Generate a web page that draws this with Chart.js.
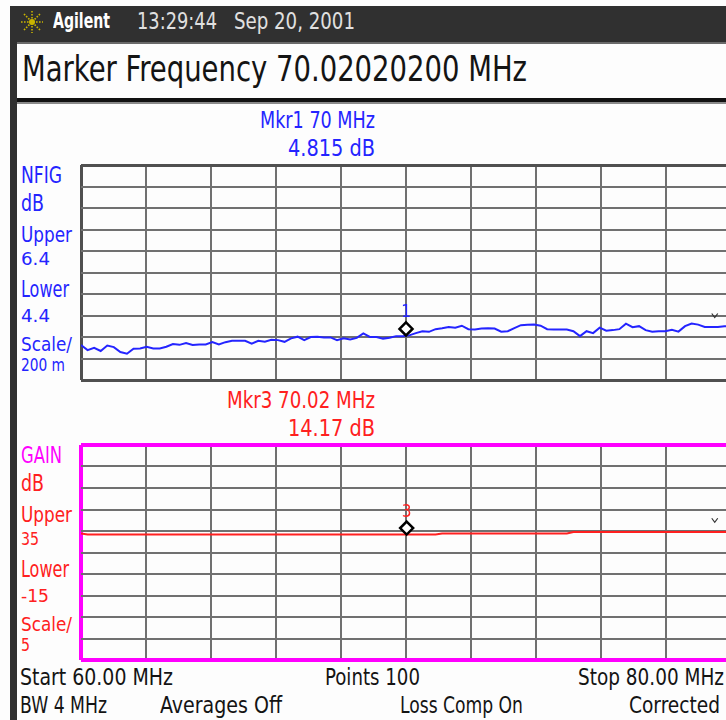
<!DOCTYPE html>
<html lang="en">
<head>
<meta charset="UTF-8">
<title>Marker Frequency 70.02020200 MHz</title>
<script src="https://cdn.jsdelivr.net/npm/chart.js"></script>
<style>
  body { margin:0; width:726px; height:720px; overflow:hidden; background:#fdfdfd; position:relative; }
  .abs { position:absolute; }
  #topbar { left:10px; top:6px; width:716px; height:36px; background:#303030; }
  #titlebox { left:10px; top:42px; width:716px; height:56px; background:#fdfdfd; border-top:2px solid #6a6a6a; box-sizing:border-box; }
  #sep { left:10px; top:98px; width:716px; height:4px; background:#111; border-bottom:2px solid #8a8a8a; }
  #leftbar { left:10px; top:42px; width:7px; height:678px; background:#303030; }
  .txt { position:absolute; white-space:nowrap; transform-origin:0 0; }
  canvas { position:absolute; }
</style>
</head>
<body>
<div id="topbar" class="abs"></div>
<div id="titlebox" class="abs"></div>
<div id="sep" class="abs"></div>
<div id="leftbar" class="abs"></div>
<svg class="abs" style="left:19px;top:9px" width="26" height="26" viewBox="-13 -13 26 26">
  <g stroke="#c9b400" stroke-width="1.6" stroke-dasharray="1.6 1.4">
    <line x1="0" y1="-11" x2="0" y2="11"/>
    <line x1="-11" y1="0" x2="11" y2="0"/>
    <line x1="-8" y1="-8" x2="8" y2="8"/>
    <line x1="-8" y1="8" x2="8" y2="-8"/>
  </g>
  <circle r="3" fill="#c9b400"/>
</svg>
<canvas id="nfig" width="656" height="221" style="left:78px;top:162px"></canvas>
<canvas id="gain" width="656" height="221" style="left:78px;top:442px"></canvas>
<script>
// sweep
const startMHz = 60, stopMHz = 80, points = 100;
const freqs = Array.from({length: points}, (_, i) => startMHz + i * (stopMHz - startMHz) / (points - 1));

// noise figure trace, dB
const nfig = [
  4.725, 4.678, 4.700, 4.670, 4.720, 4.706, 4.660, 4.644, 4.690, 4.694,
  4.709, 4.694, 4.694, 4.709, 4.734, 4.727, 4.743, 4.725, 4.731, 4.731,
  4.752, 4.731, 4.752, 4.764, 4.764, 4.764, 4.738, 4.764, 4.757, 4.775,
  4.771, 4.755, 4.787, 4.803, 4.771, 4.799, 4.803, 4.796, 4.796, 4.771,
  4.789, 4.777, 4.792, 4.833, 4.801, 4.799, 4.785, 4.794, 4.808, 4.808,
  4.815, 4.836, 4.854, 4.848, 4.873, 4.882, 4.894, 4.887, 4.905, 4.873,
  4.870, 4.878, 4.882, 4.879, 4.850, 4.854, 4.882, 4.910, 4.915, 4.916,
  4.905, 4.873, 4.870, 4.870, 4.870, 4.854, 4.808, 4.854, 4.836, 4.887,
  4.859, 4.864, 4.873, 4.924, 4.891, 4.901, 4.864, 4.850, 4.854, 4.854,
  4.868, 4.850, 4.901, 4.926, 4.915, 4.894, 4.894, 4.894, 4.901, 4.900
];

// gain trace, dB
const gain = [
  14.45, 14.17, 14.17, 14.17, 14.17, 14.17, 14.17, 14.17, 14.17, 14.17,
  14.17, 14.17, 14.17, 14.17, 14.17, 14.17, 14.17, 14.17, 14.17, 14.17,
  14.17, 14.17, 14.17, 14.17, 14.17, 14.17, 14.17, 14.17, 14.17, 14.17,
  14.17, 14.17, 14.17, 14.17, 14.17, 14.17, 14.17, 14.17, 14.17, 14.17,
  14.17, 14.17, 14.17, 14.17, 14.17, 14.17, 14.17, 14.17, 14.17, 14.17,
  14.17, 14.17, 14.17, 14.17, 14.17, 14.40, 14.40, 14.40, 14.40, 14.40,
  14.40, 14.40, 14.40, 14.40, 14.40, 14.40, 14.40, 14.40, 14.40, 14.40,
  14.40, 14.40, 14.40, 14.40, 14.40, 14.75, 14.75, 14.75, 14.75, 14.75,
  14.75, 14.75, 14.75, 14.75, 14.75, 14.75, 14.75, 14.75, 14.75, 14.75,
  14.75, 14.75, 14.75, 14.75, 14.75, 14.75, 14.75, 14.75, 14.75, 14.75
];

const nfigRange = [4.4, 6.4];   // lower, upper (200 m / div)
const gainRange = [-15, 35];    // lower, upper (5 / div)
const nfigMarker = [70, 4.815];
const gainMarker = [70.02, 14.17];

const BLUE = '#2424ff', RED = '#ff2020', MAGENTA = '#ff00ff', INK = '#141414';
const FAM = '"Liberation Sans Narrow", "DejaVu Sans Condensed", "Liberation Sans", sans-serif';

// place text so that cap top / baseline / width match the screen
const mc = document.createElement('canvas').getContext('2d');
function put(text, x, capTop, base, width, color, weight) {
  weight = weight || 'normal';
  mc.font = weight + ' 100px ' + FAM;
  const capRatio = mc.measureText('H').actualBoundingBoxAscent / 100;
  const size = (base - capTop) / capRatio;
  mc.font = weight + ' ' + size + 'px ' + FAM;
  const m = mc.measureText(text);
  const asc = m.fontBoundingBoxAscent, desc = m.fontBoundingBoxDescent;
  const el = document.createElement('div');
  el.className = 'txt';
  el.textContent = text;
  el.style.font = mc.font;
  el.style.lineHeight = size + 'px';
  el.style.color = color;
  el.style.left = x + 'px';
  el.style.top = (base - (size + asc - desc) / 2) + 'px';
  el.style.transform = 'scaleX(' + (width / m.width) + ')';
  document.body.appendChild(el);
}

put('Agilent', 53, 13.5, 28.5, 57, '#ffffff', 'bold');
put('13:29:44', 137, 12.5, 29, 80, '#e0e0e0');
put('Sep 20, 2001', 234, 12.5, 29, 121, '#e0e0e0');
put('Marker Frequency 70.02020200 MHz', 22, 55.5, 82, 505, INK);

put('Mkr1 70 MHz', 260, 111.7, 128.3, 115, BLUE);
put('4.815 dB', 288, 139, 156, 87, BLUE);
put('Mkr3 70.02 MHz', 227, 391.7, 408.3, 148, RED);
put('14.17 dB', 288, 419, 436, 87, RED);

const side = [
  // text nfig, text gain, capTop, base, width nfig, width gain
  ['NFIG', 'GAIN', 166.7, 183.3, 41, 41],
  ['dB', 'dB', 195, 211.7, 23, 23],
  ['Upper', 'Upper', 226.7, 242, 51, 51],
  ['6.4', '35', 253.3, 265.7, 29, 18],
  ['Lower', 'Lower', 281, 297.7, 48, 48],
  ['4.4', '-15', 309.3, 322.7, 29, 28],
  ['Scale/', 'Scale/', 337.3, 351.7, 51, 51],
  ['200 m', '5', 359.3, 371.7, 44, 9]
];
side.forEach((r, i) => {
  put(r[0], 20.5, r[2], r[3], r[4], BLUE);
  put(r[1], 20.5, r[2] + 280, r[3] + 280, r[5], i === 0 ? MAGENTA : RED);
});

put('Start 60.00 MHz', 20, 668.3, 685, 153, INK);
put('Points 100', 325, 668.3, 685, 95, INK);
put('Stop 80.00 MHz', 578, 668.3, 685, 146, INK);
put('BW 4 MHz', 20, 696.7, 713.3, 87, INK);
put('Averages Off', 160, 696.7, 713.3, 122, INK);
put('Loss Comp On', 400, 696.7, 713.3, 123, INK);
put('Corrected', 629, 696.7, 713.3, 91, INK);

// marker diamond with number, plus the small reference caret at the right edge
const markerPlugin = {
  id: 'mkr',
  afterDatasetsDraw(chart, args, o) {
    const {ctx, scales: {x, y}} = chart;
    const px = x.getPixelForValue(o.at[0]);
    const py = y.getPixelForValue(o.at[1]);
    const r = 6.5, cy = py - r;
    ctx.save();
    ctx.beginPath();
    ctx.moveTo(px, cy - r); ctx.lineTo(px + r, cy); ctx.lineTo(px, cy + r); ctx.lineTo(px - r, cy);
    ctx.closePath();
    ctx.fillStyle = '#fff'; ctx.fill();
    ctx.lineWidth = 2.5; ctx.strokeStyle = '#000'; ctx.stroke();
    ctx.fillStyle = o.color;
    ctx.font = '17px ' + FAM;
    ctx.textAlign = 'center'; ctx.textBaseline = 'alphabetic';
    ctx.fillText(o.label, px, cy - r - 5);
    const cx = x.getPixelForValue(o.caret[0]), cyy = y.getPixelForValue(o.caret[1]);
    ctx.beginPath();
    ctx.moveTo(cx - 3, cyy - 2); ctx.lineTo(cx, cyy + 2); ctx.lineTo(cx + 3, cyy - 2);
    ctx.lineWidth = 1.2; ctx.strokeStyle = '#333'; ctx.stroke();
    ctx.restore();
  }
};

function grid(frameColor, frameWidth) {
  return {
    drawTicks: false,
    color: c => (c.index === 0 || c.index === 10) ? frameColor : '#707070',
    lineWidth: c => (c.index === 0 || c.index === 10) ? frameWidth : 2
  };
}

function makeChart(id, values, range, color, frameColor, frameWidth, mk) {
  return new Chart(document.getElementById(id), {
    type: 'line',
    data: {
      datasets: [{
        data: freqs.map((f, i) => ({x: f, y: values[i]})),
        borderColor: color,
        borderWidth: 2,
        pointRadius: 0,
        tension: 0
      }]
    },
    options: {
      responsive: false,
      animation: false,
      events: [],
      layout: {padding: 3},
      plugins: {legend: {display: false}, tooltip: {enabled: false}, mkr: mk},
      scales: {
        x: {
          type: 'linear', min: startMHz, max: stopMHz,
          ticks: {display: false, count: 11},
          grid: grid(frameColor, frameWidth),
          border: {display: false}
        },
        y: {
          min: range[0], max: range[1],
          ticks: {display: false, count: 11},
          grid: grid(frameColor, frameWidth),
          border: {display: false}
        }
      }
    },
    plugins: [markerPlugin]
  });
}

makeChart('nfig', nfig, nfigRange, BLUE, '#505050', 3,
  {at: nfigMarker, label: '1', color: BLUE, caret: [79.5, 5.0]});
makeChart('gain', gain, gainRange, RED, MAGENTA, 4,
  {at: gainMarker, label: '3', color: RED, caret: [79.5, 17.5]});
</script>
</body>
</html>
